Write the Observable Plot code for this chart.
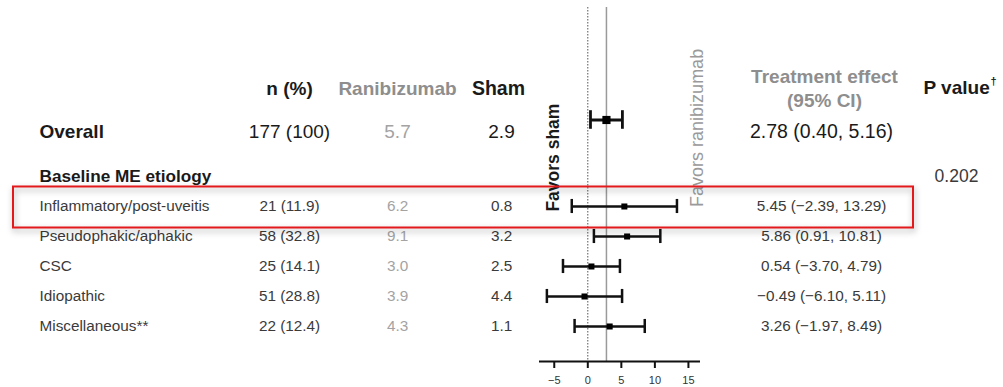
<!DOCTYPE html>
<html>
<head>
<meta charset="utf-8">
<script src="https://cdn.jsdelivr.net/npm/d3@7"></script>
<script src="https://cdn.jsdelivr.net/npm/@observablehq/plot@0.6"></script>
<style>
  html, body { margin: 0; padding: 0; background: #fff; }
  #chart svg { display: block; }
</style>
</head>
<body>
<div id="chart"></div>
<script>
// ---------------- DATA ----------------
const categories = ["Inflammatory/post-uveitis", "Pseudophakic/aphakic", "CSC", "Idiopathic", "Miscellaneous**"];
const nPatients = [21, 58, 25, 51, 22];
const nPercent = [11.9, 32.8, 14.1, 28.8, 12.4];
const ranibizumab = [6.2, 9.1, 3.0, 3.9, 4.3];
const sham = [0.8, 3.2, 2.5, 4.4, 1.1];
const effect = [5.45, 5.86, 0.54, -0.49, 3.26];
const ciLower = [-2.39, 0.91, -3.70, -6.10, -1.97];
const ciUpper = [13.29, 10.81, 4.79, 5.11, 8.49];

const overallLabel = "Overall";
const overallN = [177];
const overallPercent = [100];
const overallRanibizumab = [5.7];
const overallSham = [2.9];
const overallEffect = [2.78];
const overallLower = [0.40];
const overallUpper = [5.16];

const subgroupTitle = "Baseline ME etiology";
const subgroupP = ["0.202"];
const columnHeaders = ["n (%)", "Ranibizumab", "Sham", "Treatment effect\n(95% CI)", "P value"];
const headerMark = "\u2020";
const xTicks = [-5, 0, 5, 10, 15];
const favorLabels = ["Favors sham", "Favors ranibizumab"];
const highlighted = ["Inflammatory/post-uveitis"];

// ---------------- LAYOUT ----------------
const W = 1003, H = 387;
const ML = 539, MR = 303, MT = 7, MB = 26;
const xDomain = [-7.2, 16.8];
const yDomain = [-4.133, 7.667];           // row slots, 30px each
const HEADER = -1.417, ROW0 = 2.5, SUB = 1.5;
const colX = {label: 39, n: 289, ran: 397, sham: 501, effect: 821, pHead: 923, p: 956};
const font = "'Liberation Sans', Arial, Helvetica, sans-serif";
const cBlack = "#1a1a1a", cDark = "#3a3a3a", cLight = "#a3a3a3", cHead = "#8e8e8e";

const fmt1 = v => v.toFixed(1);
const fmt2 = v => v.toFixed(2).replace("-", "\u2212");
const fmtPct = p => p === 100 ? "100" : p.toFixed(1);

const subRows = categories.map((c, i) => ({
  label: c, n: nPatients[i], pct: nPercent[i], ran: ranibizumab[i], sham: sham[i],
  est: effect[i], lo: ciLower[i], hi: ciUpper[i], slot: ROW0 + i
}));
const overall = [{
  label: overallLabel, n: overallN[0], pct: overallPercent[0], ran: overallRanibizumab[0],
  sham: overallSham[0], est: overallEffect[0], lo: overallLower[0], hi: overallUpper[0], slot: 0
}];
const headerRow = [{slot: HEADER}];
const subgroupRow = [{label: subgroupTitle, p: subgroupP[0], slot: SUB}];

const ciText = d => `${fmt2(d.est)} (${fmt2(d.lo)}, ${fmt2(d.hi)})`;
const nText = d => `${d.n} (${fmtPct(d.pct)})`;

// column text helper: positioned relative to the frame's left edge
const col = (data, px, text, opts = {}) =>
  Plot.text(data, {y: "slot", text, frameAnchor: "left", dx: px - ML, textAnchor: "middle", ...opts});

// highlight box drawn with the plot's own y scale
function highlightBox(index, scales, values, dims) {
  const row = subRows.find(d => d.label === highlighted[0]);
  const yS = (typeof scales.y === "function") ? scales.y
    : (v => MT + (v - yDomain[0]) * (H - MT - MB) / (yDomain[1] - yDomain[0]));
  const top = yS(row.slot - 0.65), bottom = yS(row.slot + 0.717);
  const ns = "http://www.w3.org/2000/svg";
  const g = document.createElementNS(ns, "g");
  const r = document.createElementNS(ns, "rect");
  r.setAttribute("x", 13);
  r.setAttribute("y", top);
  r.setAttribute("width", dims.width - 13 - 90);
  r.setAttribute("height", bottom - top);
  r.setAttribute("fill", "none");
  r.setAttribute("stroke", "#e3191c");
  r.setAttribute("stroke-width", 2);
  r.style.filter = "drop-shadow(1px 3px 3px rgba(0,0,0,0.35))";
  g.appendChild(r);
  return g;
}

const chart = Plot.plot({
  width: W, height: H,
  marginLeft: ML, marginRight: MR, marginTop: MT, marginBottom: MB,
  style: {fontFamily: font, background: "#fff", overflow: "visible"},
  x: {domain: xDomain},
  y: {domain: yDomain, reverse: true, axis: null},
  marks: [
    // reference lines
    Plot.ruleX([0], {stroke: "#555", strokeWidth: 1, strokeDasharray: "1.5,1.5"}),
    Plot.ruleX(overallEffect, {stroke: "#9a9a9a", strokeWidth: 1.5}),
    // x axis
    Plot.ruleY([yDomain[1]], {stroke: "#111", strokeWidth: 2}),
    Plot.axisX({ticks: xTicks, tickSize: 7, tickPadding: 8, fontSize: 11, strokeWidth: 2, stroke: "#111", color: "#333", label: null}),

    // overall CI
    Plot.ruleY(overall, {y: "slot", x1: "lo", x2: "hi", stroke: "#111", strokeWidth: 2.8, dy: -11.5}),
    Plot.ruleX(overall, {x: "lo", y1: d => d.slot - 0.31, y2: d => d.slot + 0.31, stroke: "#111", strokeWidth: 2.8, dy: -11.5}),
    Plot.ruleX(overall, {x: "hi", y1: d => d.slot - 0.31, y2: d => d.slot + 0.31, stroke: "#111", strokeWidth: 2.8, dy: -11.5}),
    Plot.dot(overall, {x: "est", y: "slot", symbol: "square", r: 4.6, fill: "#000", stroke: null, dy: -11.5}),

    // subgroup CIs
    Plot.ruleY(subRows, {y: "slot", x1: "lo", x2: "hi", stroke: "#111", strokeWidth: 2.5}),
    Plot.ruleX(subRows, {x: "lo", y1: d => d.slot - 0.235, y2: d => d.slot + 0.235, stroke: "#111", strokeWidth: 2.5}),
    Plot.ruleX(subRows, {x: "hi", y1: d => d.slot - 0.235, y2: d => d.slot + 0.235, stroke: "#111", strokeWidth: 2.5}),
    Plot.dot(subRows, {x: "est", y: "slot", symbol: "square", r: 3.4, fill: "#000", stroke: null}),

    // favors labels
    Plot.text([favorLabels[0]], {x: [-5.1], y: [0.87], text: d => d, rotate: -90, fontSize: 17.5, fontWeight: "bold", fill: cBlack}),
    Plot.text([favorLabels[1]], {x: [16.35], y: [-0.12], text: d => d, rotate: -90, fontSize: 18, fill: "#9a9a9a"}),

    // headers
    col(headerRow, colX.n, () => columnHeaders[0], {fontSize: 19, fontWeight: "bold", fill: cBlack}),
    col(headerRow, colX.ran, () => columnHeaders[1], {fontSize: 19, fontWeight: "bold", fill: cHead}),
    col(headerRow, colX.sham - 3, () => columnHeaders[2], {fontSize: 19.5, fontWeight: "bold", fill: cBlack}),
    col(headerRow, colX.effect + 3, () => columnHeaders[3], {fontSize: 19, fontWeight: "bold", fill: cHead, lineHeight: 1.27, dy: -2}),
    col(headerRow, colX.pHead, () => columnHeaders[4], {fontSize: 19, fontWeight: "bold", fill: cBlack, textAnchor: "start", dy: -1}),
    col(headerRow, colX.pHead + 67, () => headerMark, {fontSize: 11, fontWeight: "bold", fill: cBlack, textAnchor: "start", dy: -8}),

    // overall row
    col(overall, colX.label, "label", {fontSize: 19, fontWeight: "bold", fill: cBlack, textAnchor: "start"}),
    col(overall, colX.n, nText, {fontSize: 19, fill: cBlack}),
    col(overall, colX.ran, d => fmt1(d.ran), {fontSize: 19, fill: cLight}),
    col(overall, colX.sham, d => fmt1(d.sham), {fontSize: 19, fill: cBlack}),
    col(overall, colX.effect, ciText, {fontSize: 19.5, fill: cBlack}),

    // subgroup title + p value
    col(subgroupRow, colX.label, "label", {fontSize: 17.2, fontWeight: "bold", fill: cBlack, textAnchor: "start"}),
    col(subgroupRow, colX.p, "p", {fontSize: 17.5, fill: cDark}),

    // subgroup rows
    col(subRows, colX.label, "label", {fontSize: 15.3, fill: cDark, textAnchor: "start"}),
    col(subRows, colX.n, nText, {fontSize: 15.3, fill: cDark}),
    col(subRows, colX.ran, d => fmt1(d.ran), {fontSize: 15.3, fill: cLight}),
    col(subRows, colX.sham, d => fmt1(d.sham), {fontSize: 15.3, fill: cDark}),
    col(subRows, colX.effect, ciText, {fontSize: 15.3, fill: cDark}),

    // highlight annotation
    highlightBox
  ]
});
document.getElementById("chart").appendChild(chart);
</script>
</body>
</html>
